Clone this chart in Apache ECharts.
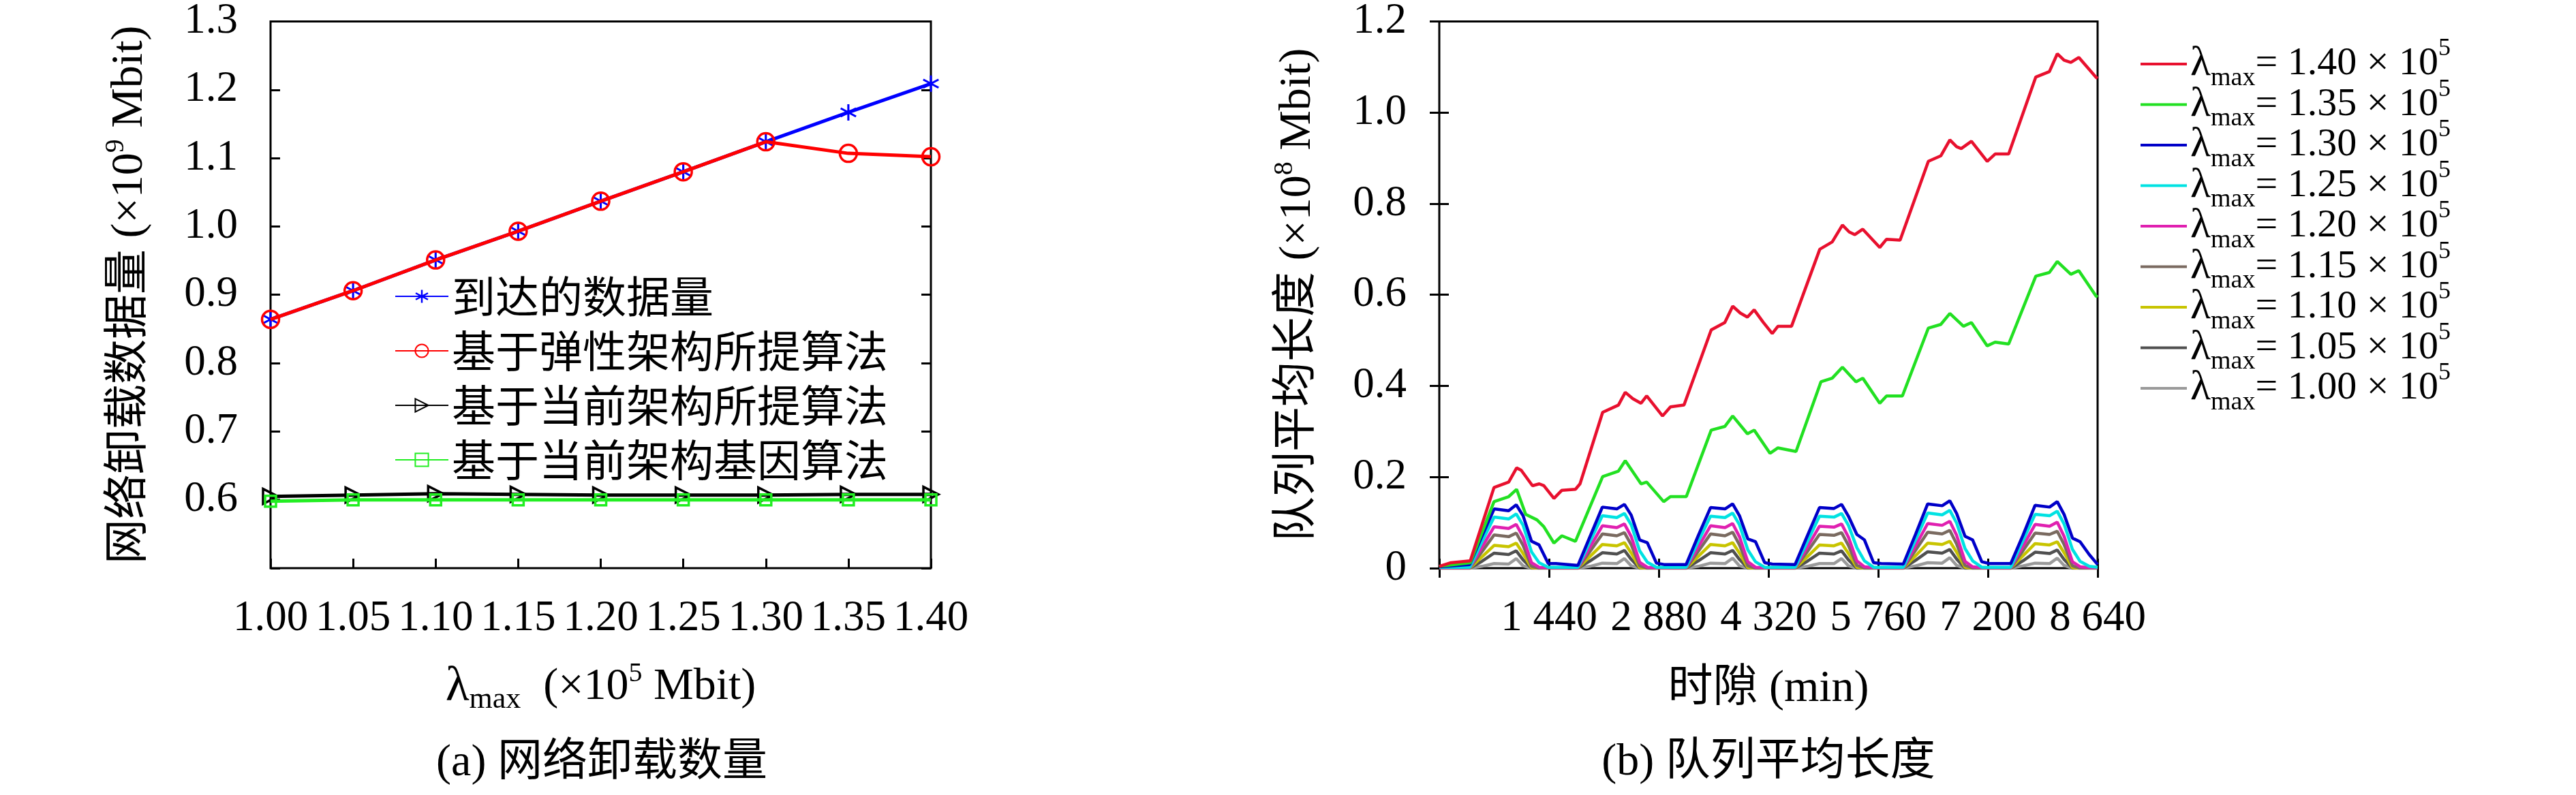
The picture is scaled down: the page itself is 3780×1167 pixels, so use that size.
<!DOCTYPE html>
<html>
<head>
<meta charset="utf-8">
<script src="https://cdn.jsdelivr.net/npm/echarts@6/dist/echarts.min.js"></script>
<style>
html,body{margin:0;padding:0;background:#fff}
#chart{width:3780px;height:1167px}
</style>
</head>
<body>
<div id="chart"></div>
<script>
// ---- (a) 网络卸载数量 ----
var lamCats = ['1.00','1.05','1.10','1.15','1.20','1.25','1.30','1.35','1.40'];
var arrived = [0.864,0.906,0.951,0.993,1.037,1.080,1.124,1.167,1.209];
var elasticAlg = [0.864,0.906,0.951,0.993,1.037,1.080,1.124,1.107,1.102];
var currentAlg = [0.605,0.607,0.609,0.608,0.607,0.607,0.607,0.608,0.608];
var currentGene = [0.598,0.600,0.600,0.600,0.600,0.600,0.600,0.600,0.600];
var namesA = ['到达的数据量','基于弹性架构所提算法','基于当前架构所提算法','基于当前架构基因算法'];

// ---- (b) 队列平均长度 ----
var q140 = [[0,0.004],[154,0.012],[407,0.016],[718,0.177],[911,0.189],[1015,0.220],[1075,0.215],
  [1223,0.181],[1312,0.185],[1372,0.181],[1505,0.153],[1609,0.171],[1787,0.173],[1847,0.185],
  [2144,0.342],[2351,0.358],[2441,0.386],[2540,0.372],[2648,0.362],[2722,0.378],[2930,0.334],
  [3034,0.354],[3212,0.358],[3569,0.523],[3747,0.539],[3851,0.575],[3950,0.560],[4044,0.551],
  [4133,0.567],[4250,0.540],[4370,0.515],[4445,0.531],[4623,0.531],[4994,0.700],[5157,0.716],
  [5291,0.753],[5380,0.738],[5454,0.732],[5558,0.744],[5781,0.704],[5870,0.722],[6048,0.720],
  [6419,0.893],[6582,0.905],[6701,0.940],[6790,0.925],[6850,0.921],[6984,0.937],[7191,0.893],
  [7295,0.909],[7473,0.909],[7829,1.078],[8007,1.090],[8111,1.129],[8200,1.115],[8289,1.110],
  [8393,1.121],[8616,1.078],[8640,1.075]];
var q135 = [[0,0.004],[407,0.012],[718,0.146],[911,0.157],[1015,0.173],[1134,0.118],[1282,0.106],
  [1372,0.091],[1505,0.055],[1609,0.071],[1787,0.059],[2144,0.201],[2351,0.213],[2441,0.236],
  [2648,0.185],[2722,0.189],[2945,0.146],[3034,0.157],[3242,0.157],[3569,0.303],[3747,0.311],
  [3851,0.334],[4044,0.295],[4133,0.303],[4341,0.252],[4445,0.264],[4682,0.256],[5009,0.409],
  [5157,0.417],[5291,0.441],[5469,0.409],[5558,0.417],[5781,0.362],[5870,0.378],[6078,0.378],
  [6419,0.527],[6582,0.535],[6701,0.559],[6879,0.531],[6984,0.539],[7191,0.488],[7295,0.496],
  [7473,0.492],[7829,0.641],[8007,0.649],[8111,0.673],[8289,0.645],[8393,0.653],[8616,0.598],
  [8640,0.595]];
var lowT = [0,
  400,560,720,910,1010,1100,1210,1310,1430,1530,
  1820,1980,2140,2330,2430,2520,2630,2730,2850,2950,
  3240,3400,3560,3750,3850,3940,4050,4150,4270,4370,
  4670,4830,4990,5180,5280,5370,5480,5580,5700,5800,
  6090,6250,6410,6600,6700,6790,6900,7000,7120,7220,
  7500,7660,7820,8010,8110,8200,8310,8410,8530,8640];
var q130 = [0.003,
  0.008,0.070,0.130,0.126,0.139,0.115,0.059,0.051,0.010,0.010,
  0.006,0.070,0.134,0.130,0.140,0.116,0.062,0.056,0.011,0.008,
  0.008,0.072,0.133,0.130,0.141,0.115,0.064,0.058,0.012,0.009,
  0.008,0.071,0.133,0.131,0.140,0.114,0.074,0.062,0.012,0.010,
  0.009,0.074,0.141,0.137,0.148,0.120,0.070,0.062,0.014,0.010,
  0.010,0.072,0.138,0.134,0.146,0.118,0.066,0.058,0.030,0.008];
var q125 = [0.002,
  0.002,0.058,0.112,0.108,0.119,0.094,0.036,0.012,0.002,0.002,
  0.002,0.059,0.115,0.111,0.120,0.095,0.038,0.013,0.002,0.002,
  0.002,0.059,0.114,0.111,0.121,0.095,0.040,0.014,0.002,0.002,
  0.002,0.058,0.114,0.112,0.120,0.094,0.045,0.016,0.002,0.002,
  0.002,0.062,0.121,0.117,0.127,0.099,0.043,0.016,0.002,0.002,
  0.002,0.060,0.118,0.115,0.125,0.097,0.041,0.015,0.004,0.002];
var q120 = [0.001,
  0.001,0.046,0.091,0.087,0.096,0.068,0.012,0.002,0.001,0.001,
  0.001,0.047,0.093,0.089,0.097,0.069,0.013,0.002,0.001,0.001,
  0.001,0.047,0.093,0.089,0.098,0.069,0.014,0.002,0.001,0.001,
  0.001,0.046,0.092,0.090,0.097,0.068,0.016,0.003,0.001,0.001,
  0.001,0.049,0.098,0.094,0.103,0.072,0.015,0.003,0.001,0.001,
  0.001,0.048,0.096,0.092,0.101,0.070,0.014,0.003,0.001,0.001];
var q115 = [0,
  0,0.036,0.073,0.069,0.077,0.050,0.004,0,0,0,
  0,0.037,0.075,0.071,0.078,0.051,0.005,0,0,0,
  0,0.037,0.075,0.071,0.079,0.051,0.005,0,0,0,
  0,0.036,0.074,0.072,0.078,0.050,0.006,0,0,0,
  0,0.039,0.079,0.075,0.083,0.053,0.006,0,0,0,
  0,0.038,0.077,0.074,0.081,0.052,0.005,0,0,0];
var q110 = [0,
  0,0.025,0.050,0.047,0.055,0.032,0.001,0,0,0,
  0,0.026,0.052,0.049,0.056,0.033,0.001,0,0,0,
  0,0.026,0.052,0.049,0.056,0.033,0.001,0,0,0,
  0,0.025,0.051,0.049,0.055,0.032,0.002,0,0,0,
  0,0.027,0.055,0.052,0.059,0.035,0.002,0,0,0,
  0,0.027,0.054,0.051,0.058,0.034,0.001,0,0,0];
var q105 = [0,
  0,0.015,0.033,0.030,0.038,0.018,0,0,0,0,
  0,0.016,0.034,0.031,0.039,0.019,0,0,0,0,
  0,0.016,0.034,0.031,0.039,0.019,0,0,0,0,
  0,0.015,0.033,0.031,0.038,0.018,0,0,0,0,
  0,0.017,0.036,0.033,0.041,0.020,0,0,0,0,
  0,0.016,0.035,0.032,0.040,0.019,0,0,0,0];
var q100 = [0,
  0,0.004,0.010,0.009,0.021,0.005,0,0,0,0,
  0,0.004,0.011,0.010,0.021,0.005,0,0,0,0,
  0,0.004,0.011,0.010,0.022,0.005,0,0,0,0,
  0,0.004,0.010,0.010,0.021,0.005,0,0,0,0,
  0,0.005,0.012,0.011,0.023,0.006,0,0,0,0,
  0,0.005,0.011,0.010,0.022,0.006,0,0,0,0];
var namesB = ['1.40','1.35','1.30','1.25','1.20','1.15','1.10','1.05','1.00'];
var colorsB = ['#e8102e','#22e022','#0000c8','#00e2e2','#e020b0','#7a6a60','#c8c400','#505050','#9a9a9a'];

function pairs(ts, vs) {
  return ts.map(function (t, i) { return [t, vs[i]]; });
}
var seriesB = [q140, q135, pairs(lowT, q130), pairs(lowT, q125), pairs(lowT, q120),
  pairs(lowT, q115), pairs(lowT, q110), pairs(lowT, q105), pairs(lowT, q100)];

var serif = "'Liberation Serif','Noto Sans CJK SC'";
var starPath = 'path://M1.2,-10L-1.2,-10L-1.2,10L1.2,10ZM9.26,-3.96L8.06,-6.04L-9.26,3.96L-8.06,6.04ZM8.06,6.04L9.26,3.96L-8.06,-6.04L-9.26,-3.96Z';

var nameRich = {
  a: {fontSize: 66, lineHeight: 80, fontFamily: serif, color: '#000'},
  l: {fontSize: 72, lineHeight: 80, fontFamily: serif, color: '#000'},
  s: {fontSize: 44, lineHeight: 30, verticalAlign: 'bottom', fontFamily: serif, color: '#000'},
  p: {fontSize: 40, lineHeight: 44, verticalAlign: 'top', fontFamily: serif, color: '#000'}
};
var legRich = {
  l: {fontSize: 62, lineHeight: 80, fontFamily: serif, color: '#000'},
  n: {fontSize: 58, lineHeight: 80, fontFamily: serif, color: '#000'},
  s: {fontSize: 38, lineHeight: 30, verticalAlign: 'bottom', fontFamily: serif, color: '#000'},
  p: {fontSize: 36, lineHeight: 40, verticalAlign: 'top', fontFamily: serif, color: '#000'}
};
var tickLab = {fontSize: 63, lineHeight: 62, fontFamily: serif, color: '#000'};
var inTick = {show: true, inside: true, length: 14, lineStyle: {color: '#000', width: 3}};
var noLab = {show: false};
var noLine = {show: false};

var chart = echarts.init(document.getElementById('chart'));
var option = {
  backgroundColor: '#fff',
  animation: false,
  grid: [
    {left: 397, top: 28, width: 969, height: 806, show: true, borderColor: '#000', borderWidth: 3},
    {left: 2112, top: 28, width: 966, height: 806, show: true, borderColor: '#000', borderWidth: 3}
  ],
  xAxis: [
    {gridIndex: 0, type: 'category', data: lamCats, boundaryGap: false, axisLine: noLine,
      axisTick: Object.assign({interval: 0}, inTick), axisLabel: Object.assign({margin: 43, interval: 0}, tickLab),
      splitLine: {show: false},
      name: '{l|λ}{s|max}{a|  (×10}{p|5}{a| Mbit)}', nameLocation: 'middle', nameGap: 135,
      nameTextStyle: {rich: nameRich}},
    {gridIndex: 0, type: 'category', data: lamCats, boundaryGap: false, position: 'top',
      axisLine: noLine, axisTick: {show: false}, axisLabel: noLab, splitLine: {show: false}},
    {gridIndex: 1, type: 'value', min: 0, max: 8640, interval: 1440, axisLine: noLine,
      axisTick: inTick, splitLine: {show: false},
      axisLabel: Object.assign({margin: 43, showMaxLabel: true, formatter: function (v) {
        if (v === 0) return '';
        var s = String(v);
        return s.slice(0, s.length - 3) + ' ' + s.slice(-3);
      }}, tickLab),
      name: '{a|时隙 (min)}', nameLocation: 'middle', nameGap: 138,
      nameTextStyle: {rich: nameRich}},
    {gridIndex: 1, type: 'value', min: 0, max: 8640, interval: 1440, position: 'top',
      axisLine: noLine, axisTick: inTick, axisLabel: noLab, splitLine: {show: false}}
  ],
  yAxis: [
    {gridIndex: 0, type: 'value', min: 0.5, max: 1.3, interval: 0.1, axisLine: noLine,
      axisTick: inTick, splitLine: {show: false},
      axisLabel: Object.assign({margin: 48, formatter: function (v) {
        return Math.abs(v - 0.5) < 1e-9 ? '' : v.toFixed(1);
      }}, tickLab),
      name: '{a|网络卸载数据量 (×10}{p|9}{a| Mbit)}', nameLocation: 'middle', nameRotate: 90, nameGap: 166,
      nameTextStyle: {rich: nameRich}},
    {gridIndex: 0, type: 'value', min: 0.5, max: 1.3, interval: 0.1, position: 'right',
      axisLine: noLine, axisTick: inTick, axisLabel: noLab, splitLine: {show: false}},
    {gridIndex: 1, type: 'value', min: 0, max: 1.2, interval: 0.2, axisLine: noLine,
      axisTick: inTick, splitLine: {show: false},
      axisLabel: Object.assign({margin: 48, formatter: function (v) {
        return v === 0 ? '0' : v.toFixed(1);
      }}, tickLab),
      name: '{a|队列平均长度 (×10}{p|8}{a| Mbit)}', nameLocation: 'middle', nameRotate: 90, nameGap: 167,
      nameTextStyle: {rich: nameRich}},
    {gridIndex: 1, type: 'value', min: 0, max: 1.2, interval: 0.2, position: 'right',
      axisLine: noLine, axisTick: inTick, axisLabel: noLab, splitLine: {show: false}}
  ],
  legend: [
    {data: namesA, orient: 'vertical', left: 574, top: 398, itemWidth: 78, itemHeight: 24, itemGap: 16,
      formatter: function (n) { return '{c|' + n + '}'; },
      textStyle: {rich: {c: {fontSize: 64, lineHeight: 64, fontFamily: "'Noto Sans CJK SC'", color: '#000'}}}},
    {data: namesB, orient: 'vertical', left: 3136, top: 49, itemWidth: 68, itemHeight: 4, itemGap: -20.5,
      icon: 'rect',
      formatter: function (n) { return '{l|λ}{s|max}{n|= ' + n + ' × 10}{p|5}'; },
      textStyle: {rich: legRich}}
  ],
  graphic: [
    {type: 'text', x: 883, y: 1121, style: {text: '(a) 网络卸载数量', font: '66px ' + serif, fill: '#000', align: 'center', verticalAlign: 'middle'}},
    {type: 'text', x: 2595, y: 1120, style: {text: '(b) 队列平均长度', font: '66px ' + serif, fill: '#000', align: 'center', verticalAlign: 'middle'}}
  ],
  series: [
    {name: namesA[0], type: 'line', xAxisIndex: 0, yAxisIndex: 0, data: arrived,
      symbol: starPath, symbolSize: 24, lineStyle: {color: '#0000ff', width: 5},
      itemStyle: {color: '#0000ff'}, z: 2},
    {name: namesA[1], type: 'line', xAxisIndex: 0, yAxisIndex: 0, data: elasticAlg,
      symbol: 'circle', symbolSize: 25, lineStyle: {color: '#ff0000', width: 5},
      itemStyle: {color: 'rgba(0,0,0,0)', borderColor: '#ff0000', borderWidth: 3.5}, z: 3},
    {name: namesA[2], type: 'line', xAxisIndex: 0, yAxisIndex: 0, data: currentAlg,
      symbol: 'path://M0,0L10,5L0,10Z', symbolSize: [22, 22], lineStyle: {color: '#000', width: 5},
      itemStyle: {color: 'rgba(0,0,0,0)', borderColor: '#000', borderWidth: 3.5}, z: 2},
    {name: namesA[3], type: 'line', xAxisIndex: 0, yAxisIndex: 0, data: currentGene,
      symbol: 'rect', symbolSize: 16, lineStyle: {color: '#22ee22', width: 5},
      itemStyle: {color: 'rgba(0,0,0,0)', borderColor: '#22ee22', borderWidth: 3.5}, z: 3}
  ].concat(namesB.map(function (n, i) {
    return {name: n, type: 'line', xAxisIndex: 2, yAxisIndex: 2, data: seriesB[i],
      symbol: 'none', lineStyle: {color: colorsB[i], width: 4.5}, itemStyle: {color: colorsB[i]},
      z: 2 + (9 - i) * 0.01};
  }))
};
chart.setOption(option);
</script>
</body>
</html>
